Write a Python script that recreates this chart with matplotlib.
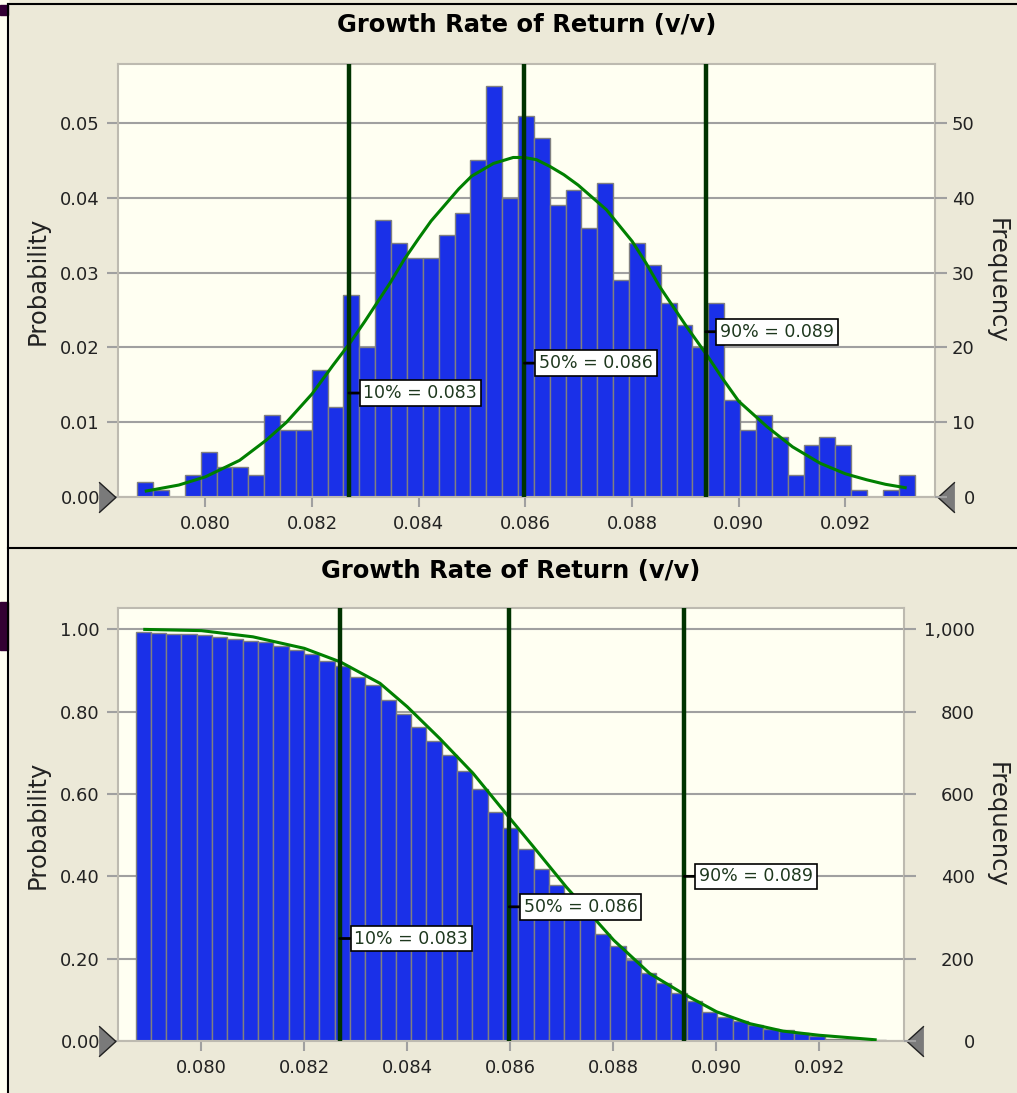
import numpy as np
import matplotlib.pyplot as plt
from matplotlib.lines import Line2D
from matplotlib.patches import Rectangle

plt.rcParams['font.family'] = 'DejaVu Sans'

# histogram of 1000 trials
bin_start = 0.07872
bin_width = 0.0002975
counts = [2, 1, 0, 3, 6, 4, 4, 3, 11, 9, 9, 17, 12, 27, 20, 37, 34, 32, 32, 35,
          38, 45, 55, 40, 51, 48, 39, 41, 36, 42, 29, 34, 31, 26, 23, 20, 26, 13,
          9, 11, 8, 3, 7, 8, 7, 1, 0, 1, 3]
n_trials = 1000

# percentiles
pct_names = ['10%', '50%', '90%']
pct_values = [0.08269, 0.08598, 0.08938]
pct_text = ['0.083', '0.086', '0.089']
pdf_label_y = [0.0139, 0.0179, 0.0221]
cdf_label_y = [0.249, 0.326, 0.400]

# fitted density (frequency)
fit_x = [0.07889, 0.07950, 0.08000, 0.08064, 0.08114, 0.08152, 0.08200, 0.08239,
         0.08270, 0.08299, 0.08346, 0.08373, 0.08400, 0.08423, 0.08446, 0.08475,
         0.08499, 0.08540, 0.08577, 0.08598, 0.08621, 0.08646, 0.08672, 0.08699,
         0.08752, 0.08800, 0.08826, 0.08852, 0.08902, 0.08940, 0.08970, 0.09000,
         0.09053, 0.09101, 0.09153, 0.09200, 0.09240, 0.09275, 0.09312]
fit_freq = [0.8, 1.6, 2.7, 4.9, 7.6, 10.0, 13.8, 17.6,
            20.5, 23.5, 28.6, 31.8, 34.6, 36.9, 38.8, 41.2,
            42.9, 44.6, 45.4, 45.4, 45.1, 44.2, 43.1, 41.7,
            38.4, 34.2, 31.3, 28.1, 22.8, 19.0, 15.8, 12.8,
            9.4, 6.7, 4.5, 3.1, 2.3, 1.7, 1.25]

# fitted reverse cumulative
rev_x = [0.07890, 0.08000, 0.08100, 0.08200, 0.08270, 0.08347, 0.08400, 0.08463,
         0.08528, 0.08598, 0.08645, 0.08709, 0.08801, 0.08871, 0.08936, 0.09001,
         0.09066, 0.09130, 0.09200, 0.09260, 0.09309]
rev_prob = [1.000, 0.997, 0.982, 0.954, 0.921, 0.869, 0.812, 0.735,
            0.650, 0.543, 0.472, 0.374, 0.245, 0.164, 0.115, 0.071,
            0.042, 0.024, 0.014, 0.008, 0.003]

x_ticks = [0.080, 0.082, 0.084, 0.086, 0.088, 0.090, 0.092]
pdf_ticks = [0.00, 0.01, 0.02, 0.03, 0.04, 0.05]
pdf_freq_ticks = [0, 10, 20, 30, 40, 50]
cdf_ticks = [0.0, 0.2, 0.4, 0.6, 0.8, 1.0]
cdf_freq_ticks = [0, 200, 400, 600, 800, 1000]

counts = np.array(counts)
edges = bin_start + bin_width * np.arange(len(counts) + 1)
prob = counts / n_trials
rev_cum = np.cumsum(counts[::-1])[::-1] / n_trials

BG = '#ece9d8'
PLOT_BG = '#fffff2'
BAR = '#1a30e8'
GRID = '#a0a0a0'
TXT = '#222222'

W, H = 1017, 1093
fig = plt.figure(figsize=(W / 100, H / 100), dpi=100, facecolor=BG)


def px_box(l, t, r, b):
    return [l / W, 1 - b / H, (r - l) / W, (b - t) / H]


def fig_line(xs, ys, lw=1.5, color='black'):
    fig.add_artist(Line2D([x / W for x in xs], [1 - y / H for y in ys],
                          transform=fig.transFigure, color=color, lw=lw))


# window frame on the left and top
fig.add_artist(Rectangle((0, 0), 8 / W, 1, transform=fig.transFigure,
                         color='#fffff0', zorder=0))
fig.add_artist(Rectangle((0, 1 - 15 / H), 8 / W, 10 / H, transform=fig.transFigure,
                         color='#330033'))
fig.add_artist(Rectangle((0, 1 - 650 / H), 8 / W, 48 / H, transform=fig.transFigure,
                         color='#330033'))
fig_line([8, W], [4, 4])
fig_line([8, 8], [4, H])
fig_line([8, W], [548, 548])

tri_right = [(-0.55, 1), (0.55, 0), (-0.55, -1)]
tri_left = [(0.55, 1), (-0.55, 0), (0.55, -1)]


def draw_panel(ax, heights, curve_x, curve_y, label_y, ytop, yticks, ylabels,
               fticks, flabels, xlim, right_pad, title_pad, ylab_x, flab_x, tri_x):
    ax.set_facecolor(PLOT_BG)
    ax.bar(edges[:-1], heights, width=bin_width, align='edge', color=BAR,
           edgecolor='#808080', linewidth=1, zorder=2)
    ax.plot(curve_x, curve_y, color='#008000', lw=2.2, zorder=3)
    for v, name, txt, ly in zip(pct_values, pct_names, pct_text, label_y):
        ax.axvline(v, color='#003300', lw=3.2, zorder=4)
        ax.annotate(f'{name} = {txt}', xy=(v, ly), xytext=(10.5, 0),
                    textcoords='offset points', ha='left', va='center',
                    fontsize=12.5, color='#1e381e', zorder=6,
                    bbox=dict(boxstyle='square,pad=0.22', fc='white', ec='black', lw=1.2),
                    arrowprops=dict(arrowstyle='-', color='black', lw=2,
                                    shrinkA=0, shrinkB=0))
    ax.set_xlim(*xlim)
    ax.set_ylim(0, ytop)
    ax.set_xticks(x_ticks, [f'{t:.3f}' for t in x_ticks])
    ax.set_yticks(yticks, ylabels)
    ax.tick_params(axis='x', length=7, width=1.5, color=GRID, pad=6,
                   labelsize=13, labelcolor=TXT)
    ax.tick_params(axis='y', length=8, width=1.5, color=GRID, pad=5,
                   labelsize=13, labelcolor=TXT)
    ax.yaxis.grid(True, color=GRID, lw=1.5)
    ax.set_axisbelow(True)
    for s in ax.spines.values():
        s.set_color('#bdbab0')
        s.set_linewidth(1.5)
    ax.set_title('Growth Rate of Return (v/v)', fontsize=17.5, fontweight='bold',
                 color='black', pad=title_pad)
    ax.set_ylabel('Probability', fontsize=17.5, color=TXT, va='center', ha='center')
    ax.yaxis.set_label_coords(ylab_x, 0.5)

    # slider markers at the zero line
    ytr = ax.get_yaxis_transform()
    ax.plot([tri_x[0]], [0], marker=tri_right, ms=22, mfc='#7a7a7a', mec='#202020',
            mew=1, transform=ytr, clip_on=False, zorder=7)
    ax.plot([tri_x[1]], [0], marker=tri_left, ms=22, mfc='#7a7a7a', mec='#202020',
            mew=1, transform=ytr, clip_on=False, zorder=7)

    ax2 = ax.twinx()
    ax2.set_ylim(0, ytop * n_trials)
    ax2.set_yticks(fticks, flabels, ha='right')
    ax2.tick_params(axis='y', length=8.6, width=1.5, color=GRID, pad=right_pad,
                    labelsize=13, labelcolor=TXT)
    for s in ax2.spines.values():
        s.set_visible(False)
    ax2.set_ylabel('Frequency', fontsize=17.5, color=TXT, rotation=270,
                   va='center', ha='center')
    ax2.yaxis.set_label_coords(flab_x, 0.5)
    return ax2


ax_top = fig.add_axes(px_box(118, 64, 935, 497))
draw_panel(ax_top, prob, fit_x, np.array(fit_freq) / n_trials, pdf_label_y, 0.0579,
           pdf_ticks, [f'{t:.2f}' for t in pdf_ticks],
           pdf_freq_ticks, [str(t) for t in pdf_freq_ticks],
           (0.07836, 0.09368), 20, 23, (38 - 118) / 817, (997 - 118) / 817,
           ((106.5 - 118) / 817, (946.5 - 118) / 817))

ax_bot = fig.add_axes(px_box(118, 608, 904, 1041))
draw_panel(ax_bot, rev_cum, rev_x, rev_prob, cdf_label_y, 1.052,
           cdf_ticks, [f'{t:.2f}' for t in cdf_ticks],
           cdf_freq_ticks, [f'{t:,}' for t in cdf_freq_ticks],
           (0.07838, 0.09365), 42.5, 21.5, (38 - 118) / 786, (997 - 118) / 786,
           ((106.5 - 118) / 786, (915 - 118) / 786))

fig.savefig('out.png', dpi=100, facecolor=BG)
